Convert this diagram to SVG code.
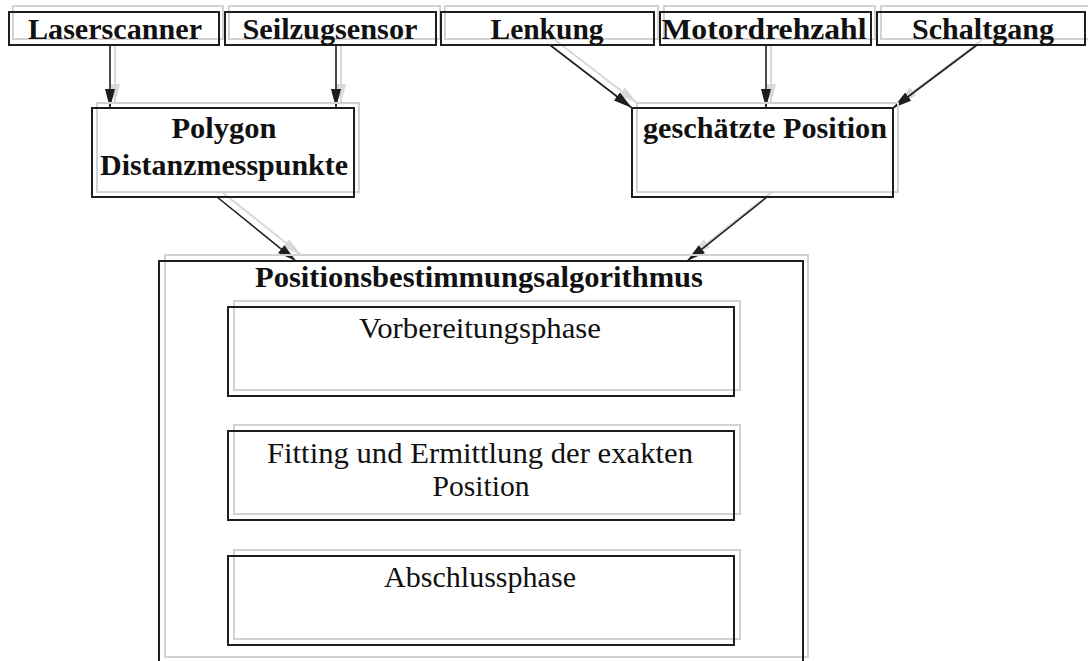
<svg xmlns="http://www.w3.org/2000/svg" width="1088" height="661" viewBox="0 0 1088 661">
  <style>
    .box { fill: none; stroke: #1e1e1e; stroke-width: 2; }
    .shadow { fill: none; stroke: #d2d2d2; stroke-width: 2; }
    .edge { stroke: #1e1e1e; stroke-width: 1.6; fill: none; marker-end: url(#head); }
    .edge-shadow { stroke: #d8d8d8; stroke-width: 2; fill: none; marker-end: url(#head-shadow); }
    .bold { font-family: "Liberation Serif", "Times New Roman", serif; font-weight: bold; font-size: 29px; fill: #111; text-anchor: middle; }
    .reg { font-family: "Liberation Serif", "Times New Roman", serif; font-size: 29px; fill: #111; text-anchor: middle; }
  </style>
  <defs>
    <marker id="head" markerUnits="userSpaceOnUse" markerWidth="20" markerHeight="11" refX="19" refY="5.5" orient="auto">
      <path d="M0,0.5 L19,5.5 L0,10.5 z" fill="#1e1e1e"/>
    </marker>
    <marker id="head-shadow" markerUnits="userSpaceOnUse" markerWidth="20" markerHeight="11" refX="19" refY="5.5" orient="auto">
      <path d="M0,0.5 L19,5.5 L0,10.5 z" fill="#d8d8d8"/>
    </marker>
  </defs>

  <rect width="1088" height="661" fill="#ffffff"/>

  <!-- connectors: soft shadow copies first, then the dark arrows -->
  <g id="connectors">
    <line class="edge-shadow" x1="115" y1="45" x2="115" y2="103"/>
    <line class="edge-shadow" x1="341" y1="45" x2="341" y2="103"/>
    <line class="edge-shadow" x1="555" y1="40" x2="637" y2="103"/>
    <line class="edge-shadow" x1="771" y1="45" x2="771" y2="103"/>
    <line class="edge-shadow" x1="982" y1="40" x2="898" y2="103"/>
    <line class="edge-shadow" x1="222" y1="192" x2="301" y2="255"/>
    <line class="edge-shadow" x1="772" y1="192" x2="692" y2="255"/>

    <line class="edge" x1="110" y1="45" x2="110" y2="108"/>
    <line class="edge" x1="336" y1="45" x2="336" y2="108"/>
    <line class="edge" x1="550" y1="45" x2="632" y2="108"/>
    <line class="edge" x1="766" y1="45" x2="766" y2="108"/>
    <line class="edge" x1="977" y1="45" x2="893" y2="108"/>
    <line class="edge" x1="217" y1="197" x2="296" y2="261"/>
    <line class="edge" x1="767" y1="197" x2="687" y2="261"/>
  </g>

  <!-- input sensors -->
  <g id="laserscanner">
    <rect class="shadow" x="13" y="6" width="210" height="33"/>
    <rect class="box" x="9" y="12" width="210" height="33"/>
    <text class="bold" x="115" y="39" textLength="174" lengthAdjust="spacingAndGlyphs">Laserscanner</text>
  </g>
  <g id="seilzugsensor">
    <rect class="shadow" x="229" y="6" width="211" height="33"/>
    <rect class="box" x="225" y="12" width="211" height="33"/>
    <text class="bold" x="330" y="39" textLength="175" lengthAdjust="spacingAndGlyphs">Seilzugsensor</text>
  </g>
  <g id="lenkung">
    <rect class="shadow" x="445" y="6" width="213" height="33"/>
    <rect class="box" x="441" y="12" width="213" height="33"/>
    <text class="bold" x="547" y="39" textLength="113" lengthAdjust="spacingAndGlyphs">Lenkung</text>
  </g>
  <g id="motordrehzahl">
    <rect class="shadow" x="664" y="6" width="211" height="33"/>
    <rect class="box" x="660" y="12" width="211" height="33"/>
    <text class="bold" x="764" y="39" textLength="205" lengthAdjust="spacingAndGlyphs">Motordrehzahl</text>
  </g>
  <g id="schaltgang">
    <rect class="shadow" x="881" y="6" width="208" height="33"/>
    <rect class="box" x="877" y="12" width="208" height="33"/>
    <text class="bold" x="983" y="39" textLength="142" lengthAdjust="spacingAndGlyphs">Schaltgang</text>
  </g>

  <!-- intermediate results -->
  <g id="polygon">
    <rect class="shadow" x="97" y="103" width="262" height="89"/>
    <rect class="box" x="92" y="108" width="262" height="89"/>
    <text class="bold" x="224" y="138" textLength="105" lengthAdjust="spacingAndGlyphs">Polygon</text>
    <text class="bold" x="224" y="175" textLength="248" lengthAdjust="spacingAndGlyphs">Distanzmesspunkte</text>
  </g>
  <g id="geschaetzte-position">
    <rect class="shadow" x="637" y="103" width="261" height="89"/>
    <rect class="box" x="632" y="108" width="261" height="89"/>
    <text class="bold" x="765" y="138" textLength="244" lengthAdjust="spacingAndGlyphs">geschätzte Position</text>
  </g>

  <!-- algorithm container with its phases -->
  <g id="algorithmus">
    <rect class="shadow" x="165" y="255" width="643" height="402"/>
    <rect class="box" x="159" y="261" width="644" height="410"/>
    <text class="bold" x="479" y="287" textLength="448" lengthAdjust="spacingAndGlyphs">Positionsbestimmungsalgorithmus</text>
  </g>
  <g id="vorbereitungsphase">
    <rect class="shadow" x="234" y="301" width="506" height="89"/>
    <rect class="box" x="228" y="307" width="506" height="89"/>
    <text class="reg" x="480" y="338" textLength="242" lengthAdjust="spacingAndGlyphs">Vorbereitungsphase</text>
  </g>
  <g id="fitting">
    <rect class="shadow" x="234" y="425" width="506" height="89"/>
    <rect class="box" x="228" y="431" width="506" height="89"/>
    <text class="reg" x="480" y="463" textLength="426" lengthAdjust="spacingAndGlyphs">Fitting und Ermittlung der exakten</text>
    <text class="reg" x="481" y="496" textLength="97" lengthAdjust="spacingAndGlyphs">Position</text>
  </g>
  <g id="abschlussphase">
    <rect class="shadow" x="234" y="550" width="506" height="89"/>
    <rect class="box" x="228" y="556" width="506" height="89"/>
    <text class="reg" x="480" y="587" textLength="192" lengthAdjust="spacingAndGlyphs">Abschlussphase</text>
  </g>
</svg>
